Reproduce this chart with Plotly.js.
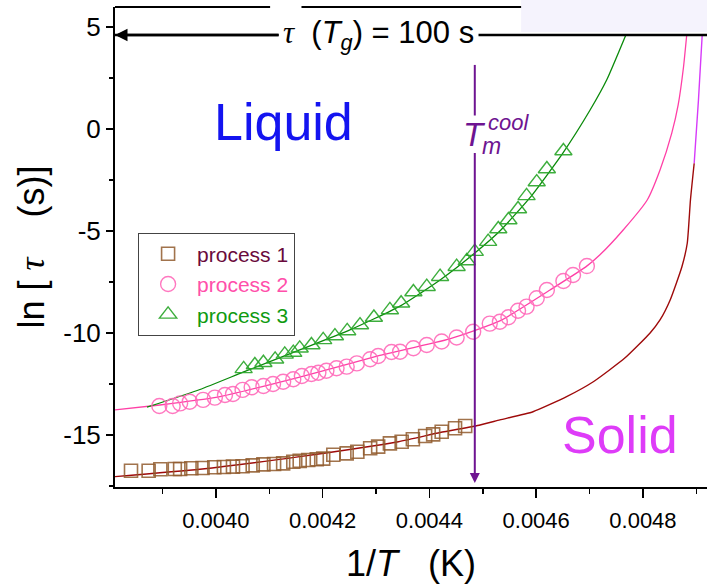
<!DOCTYPE html>
<html>
<head>
<meta charset="utf-8">
<script src="https://cdn.plot.ly/plotly-3.0.1.min.js"></script>
<style>
  html, body { margin: 0; padding: 0; background: #fff; }
  #chart { width: 707px; height: 584px; }
</style>
</head>
<body>
<div id="chart"></div>
<script>
// ---- measured relaxation data: ln(tau) against 1/T ----
const p1X = [0.003841, 0.003874, 0.003896, 0.003923, 0.003933, 0.003954, 0.003975, 0.003997, 0.004015, 0.004032,
             0.004050, 0.004069, 0.004089, 0.004109, 0.004126, 0.004145, 0.004157, 0.004173, 0.004189, 0.004201,
             0.004220, 0.004245, 0.004265, 0.004289, 0.004304, 0.004326, 0.004348, 0.004369, 0.004392, 0.004407,
             0.004423, 0.004448, 0.004467];
const p1Y = [-16.75, -16.75, -16.68, -16.67, -16.67, -16.63, -16.62, -16.58, -16.57, -16.55,
             -16.53, -16.49, -16.44, -16.42, -16.39, -16.31, -16.27, -16.23, -16.19, -16.16,
             -15.97, -15.90, -15.82, -15.65, -15.57, -15.41, -15.33, -15.21, -15.05, -14.97,
             -14.84, -14.67, -14.56];

const p2X = [0.003894, 0.003919, 0.003933, 0.003951, 0.003976, 0.003998, 0.004017, 0.004032, 0.004050, 0.004067,
             0.004089, 0.004107, 0.004126, 0.004145, 0.004161, 0.004179, 0.004192, 0.004207, 0.004226, 0.004245,
             0.004264, 0.004289, 0.004304, 0.004329, 0.004345, 0.004370, 0.004395, 0.004423, 0.004451, 0.004482,
             0.004513, 0.004532, 0.004548, 0.004566, 0.004582, 0.004601, 0.004620, 0.004651, 0.004669, 0.004695];
const p2Y = [-13.58, -13.58, -13.45, -13.37, -13.28, -13.17, -13.04, -12.99, -12.79, -12.66,
             -12.60, -12.50, -12.39, -12.27, -12.11, -12.01, -11.95, -11.85, -11.73, -11.65,
             -11.49, -11.29, -11.13, -10.93, -10.92, -10.75, -10.59, -10.42, -10.22, -9.94,
             -9.54, -9.45, -9.23, -8.91, -8.71, -8.30, -7.89, -7.45, -7.16, -6.72];

const p3X = [0.004052, 0.004073, 0.004089, 0.004111, 0.004129, 0.004145, 0.004157, 0.004179, 0.004201, 0.004223,
             0.004246, 0.004270, 0.004296, 0.004326, 0.004347, 0.004370, 0.004395, 0.004420, 0.004451, 0.004470,
             0.004485, 0.004510, 0.004529, 0.004548, 0.004566, 0.004582, 0.004601, 0.004620, 0.004651];
const p3Y = [-11.76, -11.57, -11.46, -11.29, -11.05, -10.96, -10.75, -10.59, -10.34, -10.15,
             -9.90, -9.61, -9.24, -8.87, -8.54, -7.99, -7.73, -7.24, -6.75, -6.47,
             -6.01, -5.52, -4.90, -4.46, -3.92, -3.28, -2.60, -1.96, -1.08];

// ---- fitted curves (sampled along each fit) ----
const fit1X = [0.003811, 0.003970, 0.004157, 0.004342, 0.004420, 0.004495, 0.004532, 0.004594, 0.004657, 0.004707,
               0.004766, 0.004813, 0.004832, 0.004851, 0.004873, 0.004883, 0.004889, 0.004896];
const fit1Y = [-17.04, -16.68, -16.06, -15.33, -14.88, -14.51, -14.26, -13.86, -13.12, -12.39,
               -11.23, -10.01, -9.36, -8.38, -6.75, -5.60, -3.48, -1.68];
// steep continuation into the solid
const solidX = [0.004896, 0.004904, 0.004911];
const solidY = [-1.68, 1.42, 4.61];

const fit2X = [0.003811, 0.003895, 0.004000, 0.004157, 0.004307, 0.004438, 0.004532, 0.004626, 0.004693, 0.004719,
               0.004763, 0.004808, 0.004832, 0.004854, 0.004866, 0.004876, 0.004882];
const fit2Y = [-13.77, -13.53, -13.16, -12.16, -11.10, -10.29, -9.41, -7.89, -6.76, -6.18,
               -4.95, -3.48, -2.01, -0.20, 1.18, 3.04, 4.61];

const fit3X = [0.003871, 0.003970, 0.004052, 0.004157, 0.004251, 0.004345, 0.004420, 0.004485, 0.004532, 0.004588,
               0.004650, 0.004701, 0.004732, 0.004768];
const fit3Y = [-13.64, -12.77, -11.91, -10.83, -9.85, -8.68, -7.40, -6.08, -5.00, -3.38,
               -1.18, 0.93, 2.40, 4.61];

// ---- reference levels ----
const tauGlassLn = 4.605;          // ln(100 s)
const tmCoolX = 0.004485;          // 1/T at the melting point on cooling
const tmArrowTop = 3.14;
const tmArrowTip = -17.35;

// ---- axes ----
const xRange = [0.003811, 0.00492];
const yRange = [-17.55, 5.98];
const xTickVals = [0.0040, 0.0042, 0.0044, 0.0046, 0.0048];
const xTickText = ['0.0040', '0.0042', '0.0044', '0.0046', '0.0048'];
const xMinorVals = [0.0039, 0.0041, 0.0043, 0.0045, 0.0047, 0.0049];
const yTickVals = [-15, -10, -5, 0, 5];
const yTickText = ['-15', '-10', '-5', '0', '5'];
const yMinorVals = [-17.5, -12.5, -7.5, -2.5, 2.5];

const FONT = 'Arial, "Liberation Sans", sans-serif';
const PURPLE = '#6E1491';
const NB = '\u00a0';

const traces = [
  { x: fit1X, y: fit1Y, mode: 'lines', line: { color: '#9E0A0A', width: 1.4, shape: 'spline', smoothing: 0.5 },
    showlegend: false, hoverinfo: 'skip' },
  { x: solidX, y: solidY, mode: 'lines', line: { color: '#D63AF9', width: 1.4, shape: 'spline', smoothing: 0.5 },
    showlegend: false, hoverinfo: 'skip' },
  { x: fit2X, y: fit2Y, mode: 'lines', line: { color: '#FF3FA6', width: 1.3, shape: 'spline', smoothing: 0.5 },
    showlegend: false, hoverinfo: 'skip' },
  { x: fit3X, y: fit3Y, mode: 'lines', line: { color: '#0A8A0A', width: 1.3, shape: 'spline', smoothing: 0.5 },
    showlegend: false, hoverinfo: 'skip' },
  { x: p1X, y: p1Y, mode: 'markers', name: '<span style="color:#6A0A3C">process 1</span>',
    marker: { symbol: 'square-open', size: 13, color: 'rgba(145,90,45,0.85)', line: { width: 1.6 } } },
  { x: p2X, y: p2Y, mode: 'markers', name: '<span style="color:#FF4FAA">process 2</span>',
    marker: { symbol: 'circle-open', size: 15, color: 'rgba(255,105,185,0.9)', line: { width: 1.4 } } },
  { x: p3X, y: p3Y, mode: 'markers', name: '<span style="color:#109A10">process 3</span>',
    marker: { symbol: 'triangle-up-open', size: 15, color: 'rgba(40,165,40,0.9)', line: { width: 1.4 } } }
];

const layout = {
  width: 707, height: 584,
  margin: { l: 115, r: 0, t: 7, b: 97 },
  paper_bgcolor: '#ffffff', plot_bgcolor: '#ffffff',
  font: { family: FONT, color: '#000' },
  showlegend: true,
  legend: {
    x: 0.039, y: 0.53, xanchor: 'left', yanchor: 'top',
    bgcolor: '#ffffff', bordercolor: '#444', borderwidth: 1,
    font: { family: FONT, size: 21 }, itemwidth: 48
  },
  xaxis: {
    range: xRange, showgrid: false, zeroline: false,
    showline: true, linecolor: '#000', linewidth: 2, mirror: false,
    tickmode: 'array', tickvals: xTickVals, ticktext: xTickText,
    ticks: 'outside', ticklen: 9, tickwidth: 1.5, tickcolor: '#000',
    tickfont: { family: FONT, size: 22 }, ticklabelstandoff: 4,
    minor: { tickmode: 'array', tickvals: xMinorVals, ticks: 'outside', ticklen: 5, tickwidth: 1.5, tickcolor: '#000' },
    title: { text: '1/<i>T</i>' + NB + NB + NB + '(K)', font: { family: FONT, size: 36 }, standoff: 20 }
  },
  yaxis: {
    range: yRange, showgrid: false, zeroline: false,
    showline: true, linecolor: '#000', linewidth: 2, mirror: false,
    tickmode: 'array', tickvals: yTickVals, ticktext: yTickText,
    ticks: 'outside', ticklen: 7, tickwidth: 1.5, tickcolor: '#000',
    tickfont: { family: FONT, size: 26 },
    minor: { tickmode: 'array', tickvals: yMinorVals, ticks: 'outside', ticklen: 4, tickwidth: 1.5, tickcolor: '#000' },
    title: { text: 'ln [ <span style="font-family:\'Liberation Serif\'"><i>τ</i></span>' + NB + NB + NB + NB + '(s)]',
             font: { family: FONT, size: 36 }, standoff: 8 }
  },
  shapes: [
    // top frame, broken where the tau label sits
    { type: 'line', xref: 'paper', yref: 'paper', x0: 0, x1: 0.262, y0: 1, y1: 1, line: { color: '#000', width: 2 } },
    { type: 'line', xref: 'paper', yref: 'paper', x0: 0.315, x1: 1, y0: 1, y1: 1, line: { color: '#000', width: 2 } },
    // tau(Tg) = 100 s level
    { type: 'line', xref: 'x', yref: 'y', x0: xRange[0], x1: xRange[1], y0: tauGlassLn, y1: tauGlassLn,
      line: { color: '#000', width: 2.5 } },
    // upper part of the T_m marker line (the lower part is the labelled arrow)
    { type: 'line', xref: 'x', yref: 'y', x0: tmCoolX, x1: tmCoolX, y0: tmArrowTop, y1: 0.0,
      line: { color: PURPLE, width: 2 } },
    // pale panel in the top-right corner
    { type: 'rect', xref: 'paper', yref: 'paper', x0: 0.686, x1: 1.02, y0: 0.948, y1: 1.03,
      fillcolor: '#F5F3FD', line: { width: 0 }, layer: 'above' }
  ],
  annotations: [
    // tau(Tg) label, its arrow running left to the axis
    { x: xRange[0], y: tauGlassLn, xref: 'x', yref: 'y', ax: 0.004305, ay: tauGlassLn, axref: 'x', ayref: 'y',
      showarrow: true, arrowhead: 2, arrowsize: 1, arrowwidth: 2.5, arrowcolor: '#000',
      bgcolor: '#ffffff', borderpad: 4,
      text: '<span style="font-family:\'Liberation Serif\'"><i>τ</i></span>' + NB + NB + '(<i>T</i><sub><i>g</i></sub>) = 100 s',
      font: { family: FONT, size: 31, color: '#000' } },
    // T_m^cool label with the arrow down to the axis
    { x: tmCoolX, y: tmArrowTip, xref: 'x', yref: 'y', ax: tmCoolX, ay: -0.25, axref: 'x', ayref: 'y',
      showarrow: true, arrowhead: 2, arrowsize: 1, arrowwidth: 2, arrowcolor: PURPLE,
      bgcolor: '#ffffff', borderpad: 0,
      text: '<i>T</i>', font: { family: FONT, size: 33, color: PURPLE } },
    { x: 0.004516, y: -0.85, xref: 'x', yref: 'y', showarrow: false,
      text: '<i>m</i>', font: { family: FONT, size: 23, color: PURPLE } },
    { x: 0.004549, y: 0.3, xref: 'x', yref: 'y', showarrow: false,
      text: '<i>cool</i>', font: { family: FONT, size: 22, color: PURPLE } },
    // phase labels
    { x: 0.004127, y: 0.35, xref: 'x', yref: 'y', showarrow: false,
      text: 'Liquid', font: { family: FONT, size: 52, color: '#1414F0' } },
    { x: 0.004757, y: -15.0, xref: 'x', yref: 'y', showarrow: false,
      text: 'Solid', font: { family: FONT, size: 52, color: '#DE3CF8' } }
  ]
};

Plotly.newPlot('chart', traces, layout, { displayModeBar: false, staticPlot: true });
</script>
</body>
</html>
